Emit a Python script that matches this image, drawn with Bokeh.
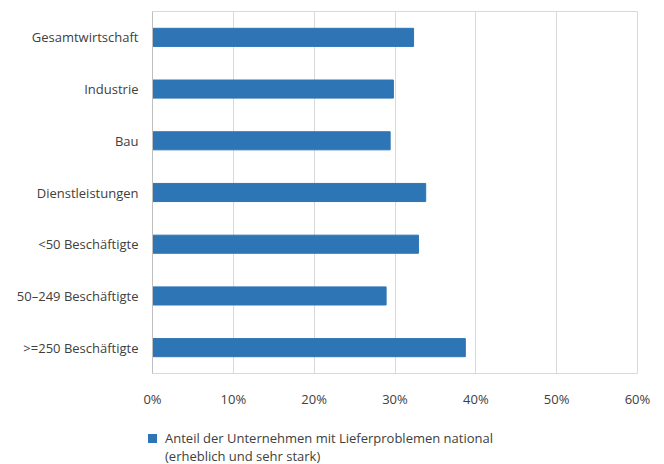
from bokeh.plotting import figure
from bokeh.models import FactorRange, Range1d, FixedTicker, CustomJSTickFormatter, Div
from bokeh.layouts import column
from bokeh.embed import file_html
from bokeh.resources import INLINE

categories = ["Gesamtwirtschaft", "Industrie", "Bau", "Dienstleistungen",
              "<50 Beschäftigte", "50–249 Beschäftigte", ">=250 Beschäftigte"]
values = [32.3, 29.8, 29.4, 33.8, 32.9, 28.9, 38.7]
x_ticks = [0, 10, 20, 30, 40, 50, 60]
series_line1 = "Anteil der Unternehmen mit Lieferproblemen national"
series_line2 = "(erheblich und sehr stark)"

FONT = "Open Sans"
TXT = "#404040"
BAR = "#2E75B6"
GRID = "#D9D9D9"

W = 664
H_MAIN = 410
H_LEG = 54

p = figure(width=W, height=H_MAIN, output_backend="svg", toolbar_location=None,
           y_range=FactorRange(factors=list(reversed(categories))),
           x_range=Range1d(0, 60),
           min_border_left=152, min_border_right=27, min_border_top=11, min_border_bottom=24)
p.y_range.range_padding = 0

r = p.hbar(y=categories, right=values, left=0, height=0.35, color=BAR)

p.outline_line_color = GRID
p.outline_line_width = 1
p.background_fill_color = "white"
p.border_fill_color = "white"

p.xgrid.ticker = FixedTicker(ticks=x_ticks)
p.xgrid.grid_line_color = GRID
p.ygrid.grid_line_color = None

p.xaxis.ticker = FixedTicker(ticks=x_ticks)
p.xaxis.formatter = CustomJSTickFormatter(code="return tick.toFixed(0) + '%'")
p.xaxis.axis_line_color = None
p.xaxis.major_tick_line_color = None
p.xaxis.minor_tick_line_color = None
p.xaxis.major_label_text_font = FONT
p.xaxis.major_label_text_font_size = "13px"
p.xaxis.major_label_text_color = TXT
p.xaxis.major_label_standoff = 10

p.yaxis.axis_line_color = "#BFBFBF"
p.yaxis.major_tick_line_color = None
p.yaxis.minor_tick_line_color = None
p.yaxis.major_label_text_font = FONT
p.yaxis.major_label_text_font_size = "13px"
p.yaxis.major_label_text_color = TXT
p.yaxis.major_label_standoff = 8

legend_html = (
    f'<div style="position:relative;width:{W}px;height:{H_LEG}px;'
    f'font-family:\'{FONT}\';font-size:13px;color:{TXT};">'
    f'<span style="position:absolute;left:148px;top:24px;width:9px;height:9px;'
    f'background:{BAR};"></span>'
    f'<span style="position:absolute;left:165px;top:19px;line-height:18px;white-space:nowrap;">'
    f'{series_line1}<br>{series_line2}</span></div>'
)
leg = Div(text=legend_html, width=W, height=H_LEG, margin=0)

layout = column(p, leg, spacing=0)
open("out.html", "w").write(file_html(layout, INLINE))
